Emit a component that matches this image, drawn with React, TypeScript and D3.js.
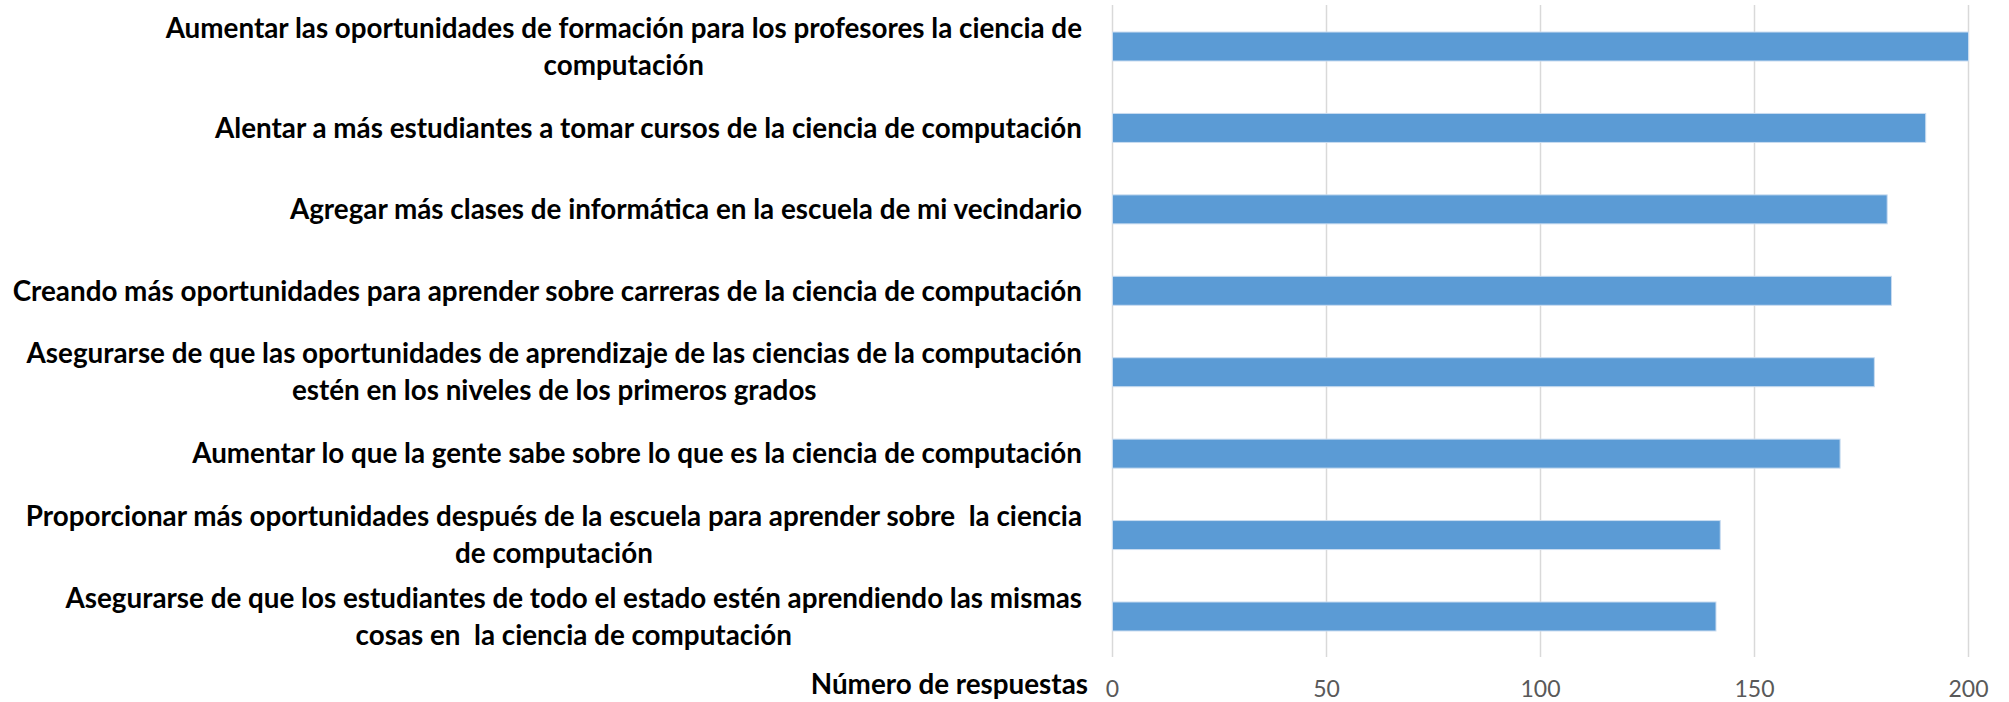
import * as d3 from 'd3'
import { useEffect, useRef } from 'react'

// categories top to bottom, each split into its visible lines
const categories: string[][] = [
  ['Aumentar las oportunidades de formación para los profesores la ciencia de', 'computación'],
  ['Alentar a más estudiantes a tomar cursos de la ciencia de computación'],
  ['Agregar más clases de informática en la escuela de mi vecindario'],
  ['Creando más oportunidades para aprender sobre carreras de la ciencia de computación'],
  ['Asegurarse de que las oportunidades de aprendizaje de las ciencias de la computación', 'estén en los niveles de los primeros grados'],
  ['Aumentar lo que la gente sabe sobre lo que es la ciencia de computación'],
  ['Proporcionar más oportunidades después de la escuela para aprender sobre  la ciencia', 'de computación'],
  ['Asegurarse de que los estudiantes de todo el estado estén aprendiendo las mismas', 'cosas en  la ciencia de computación'],
]
const responses: number[] = [200, 190, 181, 182, 178, 170, 142, 141]
const xTicks: number[] = [0, 50, 100, 150, 200]
const axisTitle = 'Número de respuestas'

const W = 2009
const H = 702

const App = () => {
  const ref = useRef<SVGSVGElement>(null)

  useEffect(() => {
    if (!ref.current) return
    const svg = d3.select(ref.current)
    svg.selectAll('*').remove()

    const font = 'Lato, "Open Sans", sans-serif'
    const labelSize = 27.8
    const lineH = 37
    const labelRight = 1082

    const keys = categories.map((_, i) => String(i))
    const x = d3.scaleLinear().domain([0, 200]).range([1112.5, 1968.5])
    const y = d3.scaleBand()
      .domain(keys)
      .range([5.8, 657.2])
      .paddingInner(0.644)
      .paddingOuter(0.322)

    // gridlines
    svg.append('g')
      .selectAll('line')
      .data(xTicks)
      .enter()
      .append('line')
      .attr('x1', d => x(d))
      .attr('x2', d => x(d))
      .attr('y1', 5)
      .attr('y2', 657)
      .attr('stroke', '#d9d9d9')
      .attr('stroke-width', 1.5)

    // bars
    svg.append('g')
      .selectAll('rect')
      .data(responses)
      .enter()
      .append('rect')
      .attr('x', x(0))
      .attr('y', (_, i) => y(keys[i])!)
      .attr('width', d => x(d) - x(0))
      .attr('height', y.bandwidth())
      .attr('fill', '#5b9bd5')
      .attr('stroke', '#c9dcf0')
      .attr('stroke-width', 1)

    // tick labels
    svg.append('g')
      .selectAll('text')
      .data(xTicks)
      .enter()
      .append('text')
      .attr('x', d => x(d))
      .attr('y', 697)
      .attr('text-anchor', 'middle')
      .style('font-family', font)
      .style('font-size', '23px')
      .style('fill', '#595959')
      .text(d => d)

    // category labels: right-aligned block, lines centred within it
    categories.forEach((lines, i) => {
      const cy = y(keys[i])! + y.bandwidth() / 2
      const g = svg.append('g')
      const texts = lines.map((line, j) =>
        g.append('text')
          .attr('y', cy + (j - (lines.length - 1) / 2) * lineH)
          .attr('dy', '0.35em')
          .attr('text-anchor', 'middle')
          .style('font-family', font)
          .style('font-weight', 'bold')
          .style('font-size', `${labelSize}px`)
          .style('fill', '#000')
          .style('white-space', 'pre')
          .text(line)
      )
      const widths = texts.map(t => (t.node() as SVGTextElement).getComputedTextLength())
      const maxW = d3.max(widths) || 0
      texts.forEach(t => t.attr('x', labelRight - maxW / 2))
    })

    // axis title
    svg.append('text')
      .attr('x', 1088)
      .attr('y', 694)
      .attr('text-anchor', 'end')
      .style('font-family', font)
      .style('font-weight', 'bold')
      .style('font-size', `${labelSize}px`)
      .style('fill', '#000')
      .text(axisTitle)
  }, [])

  return (
    <svg
      ref={ref}
      width={W}
      height={H}
      style={{ position: 'absolute', left: 0, top: 0, background: '#fff', display: 'block' }}
    />
  )
}

export default App
